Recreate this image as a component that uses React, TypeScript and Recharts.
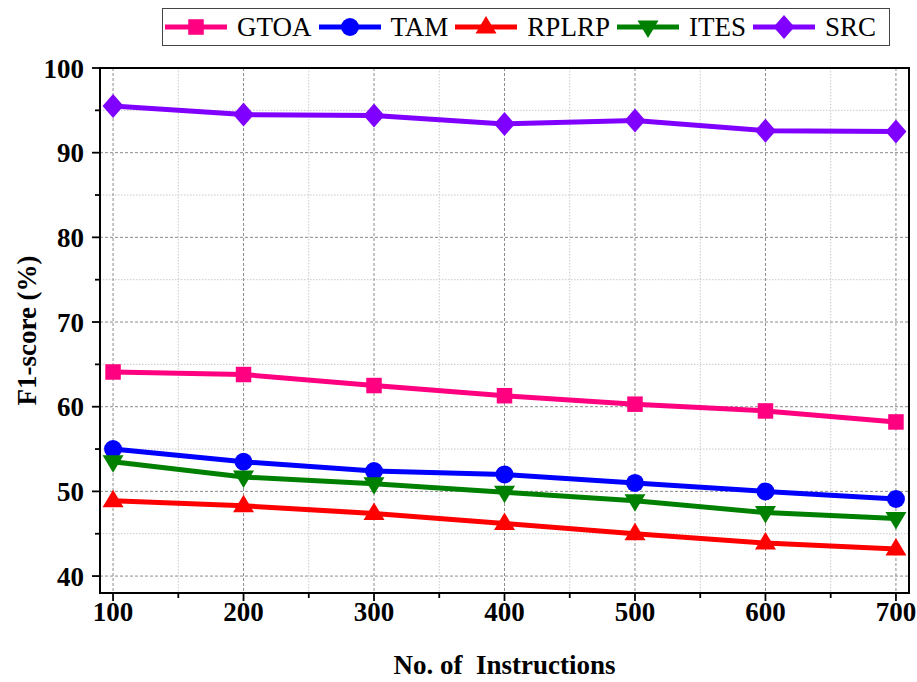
import React from 'react';
import { LineChart, Line, XAxis, YAxis, CartesianGrid, Legend, ReferenceArea } from 'recharts';

const categories = [100, 200, 300, 400, 500, 600, 700];
const gtoa = [64.1, 63.8, 62.5, 61.3, 60.3, 59.5, 58.2];
const tam = [55.0, 53.5, 52.4, 52.0, 51.0, 50.0, 49.1];
const rplrp = [48.9, 48.3, 47.4, 46.2, 45.0, 43.9, 43.2];
const ites = [53.5, 51.7, 50.9, 49.9, 48.9, 47.5, 46.8];
const src = [95.5, 94.5, 94.4, 93.4, 93.8, 92.6, 92.5];

const xTicks = [100, 150, 200, 250, 300, 350, 400, 450, 500, 550, 600, 650, 700];
const xMajor = [100, 200, 300, 400, 500, 600, 700];
const xMinor = [150, 250, 350, 450, 550, 650];
const yTicks = [40, 45, 50, 55, 60, 65, 70, 75, 80, 85, 90, 95, 100];
const yMajor = [40, 50, 60, 70, 80, 90];
const yMinor = [45, 55, 65, 75, 85, 95];
const xDomain = [90, 710];
const yDomain = [38, 100];

const series = [
  { key: 'GTOA', color: '#FF0080', shape: 'square', values: gtoa },
  { key: 'TAM', color: '#0000FF', shape: 'circle', values: tam },
  { key: 'RPLRP', color: '#FF0000', shape: 'up', values: rplrp },
  { key: 'ITES', color: '#008000', shape: 'down', values: ites },
  { key: 'SRC', color: '#8000FF', shape: 'diamond', values: src },
];

const data = categories.map((c, i) => {
  const row: any = { x: c };
  series.forEach((s) => { row[s.key] = s.values[i]; });
  return row;
});

const FONT = '"Liberation Serif", "Times New Roman", serif';

function Marker({ cx, cy, shape, color }: any) {
  if (cx == null || cy == null) return null;
  switch (shape) {
    case 'square':
      return <rect x={cx - 7.75} y={cy - 7.75} width={15.5} height={15.5} fill={color} />;
    case 'circle':
      return <circle cx={cx} cy={cy} r={9} fill={color} />;
    case 'up':
      return <polygon points={`${cx},${cy - 11} ${cx + 10.5},${cy + 6.5} ${cx - 10.5},${cy + 6.5}`} fill={color} />;
    case 'down':
      return <polygon points={`${cx},${cy + 11} ${cx + 10.5},${cy - 6.5} ${cx - 10.5},${cy - 6.5}`} fill={color} />;
    case 'diamond':
      return <polygon points={`${cx},${cy - 12} ${cx + 10.5},${cy} ${cx},${cy + 12} ${cx - 10.5},${cy}`} fill={color} />;
    default:
      return null;
  }
}

function YTick(props: any) {
  const { x, y, payload } = props;
  const major = payload.value % 10 === 0;
  return (
    <g>
      <line x1={x} x2={x - (major ? 8 : 5)} y1={y} y2={y} stroke="#000" strokeWidth={1.8} />
      {major && (
        <text x={x - 16} y={y} dy="0.36em" textAnchor="end" fontFamily={FONT} fontWeight="bold" fontSize={27} fill="#000">
          {payload.value}
        </text>
      )}
    </g>
  );
}

function XTick(props: any) {
  const { x, y, payload } = props;
  const major = payload.value % 100 === 0;
  return (
    <g>
      <line x1={x} x2={x} y1={y} y2={y + (major ? 8 : 5)} stroke="#000" strokeWidth={1.8} />
      {major && (
        <text x={x} y={y + 9} dy="0.71em" textAnchor="middle" fontFamily={FONT} fontWeight="bold" fontSize={27} fill="#000">
          {payload.value}
        </text>
      )}
    </g>
  );
}

function LegendContent() {
  return (
    <div
      style={{
        display: 'flex',
        alignItems: 'center',
        border: '1px solid #444',
        background: '#fff',
        height: 36,
        padding: '0 6px 0 2px',
        boxSizing: 'content-box',
      }}
    >
      {series.map((s) => (
        <div key={s.key} style={{ display: 'flex', alignItems: 'center', marginRight: 7 }}>
          <svg width={62} height={36}>
            <line x1={0} x2={62} y1={18} y2={18} stroke={s.color} strokeWidth={5} />
            <Marker cx={31} cy={18} shape={s.shape} color={s.color} />
          </svg>
          <span style={{ fontFamily: FONT, fontSize: 27, marginLeft: 10, color: '#000', lineHeight: '36px' }}>{s.key}</span>
        </div>
      ))}
    </div>
  );
}

export default function App() {
  return (
    <div style={{ position: 'absolute', left: 0, top: 0, width: 917, height: 682, background: '#fff' }}>
      <LineChart width={917} height={682} data={data} margin={{ top: 68, right: 8, bottom: 0, left: 0 }}>
        <CartesianGrid
          horizontalValues={yMinor}
          verticalValues={xMinor}
          stroke="#c8c8c8"
          strokeDasharray="1.5 1.5"
          strokeWidth={1}
        />
        <CartesianGrid
          horizontalValues={yMajor}
          verticalValues={xMajor}
          stroke="#8c8c8c"
          strokeDasharray="3 2"
          strokeWidth={1}
        />
        <XAxis
          dataKey="x"
          type="number"
          domain={xDomain}
          ticks={xTicks}
          interval={0}
          allowDataOverflow
          height={89}
          tickSize={0}
          tickMargin={0}
          tickLine={false}
          axisLine={{ stroke: '#000', strokeWidth: 2 }}
          tick={<XTick />}
          label={{
            value: 'No. of  Instructions',
            content: (p: any) => {
              const vb = p.viewBox || {};
              return (
                <text
                  x={vb.x + vb.width / 2}
                  y={vb.y + 81}
                  textAnchor="middle"
                  fontFamily={FONT}
                  fontWeight="bold"
                  fontSize={27}
                  fill="#000"
                  style={{ whiteSpace: 'pre' }}
                >
                  No. of  Instructions
                </text>
              );
            },
          }}
        />
        <YAxis
          type="number"
          domain={yDomain}
          ticks={yTicks}
          interval={0}
          allowDataOverflow
          width={100}
          tickSize={0}
          tickMargin={0}
          tickLine={false}
          axisLine={{ stroke: '#000', strokeWidth: 2 }}
          tick={<YTick />}
          label={{
            value: 'F1-score (%)',
            content: (p: any) => {
              const vb = p.viewBox || {};
              const cy = vb.y + vb.height / 2;
              return (
                <text
                  x={36}
                  y={cy}
                  transform={`rotate(-90, 36, ${cy})`}
                  textAnchor="middle"
                  fontFamily={FONT}
                  fontWeight="bold"
                  fontSize={27}
                  fill="#000"
                >
                  F1-score (%)
                </text>
              );
            },
          }}
        />
        <ReferenceArea
          x1={xDomain[0]}
          x2={xDomain[1]}
          y1={yDomain[0]}
          y2={yDomain[1]}
          fill="none"
          fillOpacity={0}
          stroke="#000"
          strokeWidth={2}
          ifOverflow="visible"
        />
        {series.map((s) => (
          <Line
            key={s.key}
            dataKey={s.key}
            name={s.key}
            stroke={s.color}
            strokeWidth={5}
            isAnimationActive={false}
            dot={(p: any) => <Marker key={`${s.key}-${p.index}`} cx={p.cx} cy={p.cy} shape={s.shape} color={s.color} />}
            activeDot={false}
          />
        ))}
        <Legend
          layout="horizontal"
          verticalAlign="middle"
          align="center"
          content={<LegendContent />}
          wrapperStyle={{ position: 'absolute', left: 162, top: 8, width: 'auto', height: 'auto' }}
        />
      </LineChart>
    </div>
  );
}
